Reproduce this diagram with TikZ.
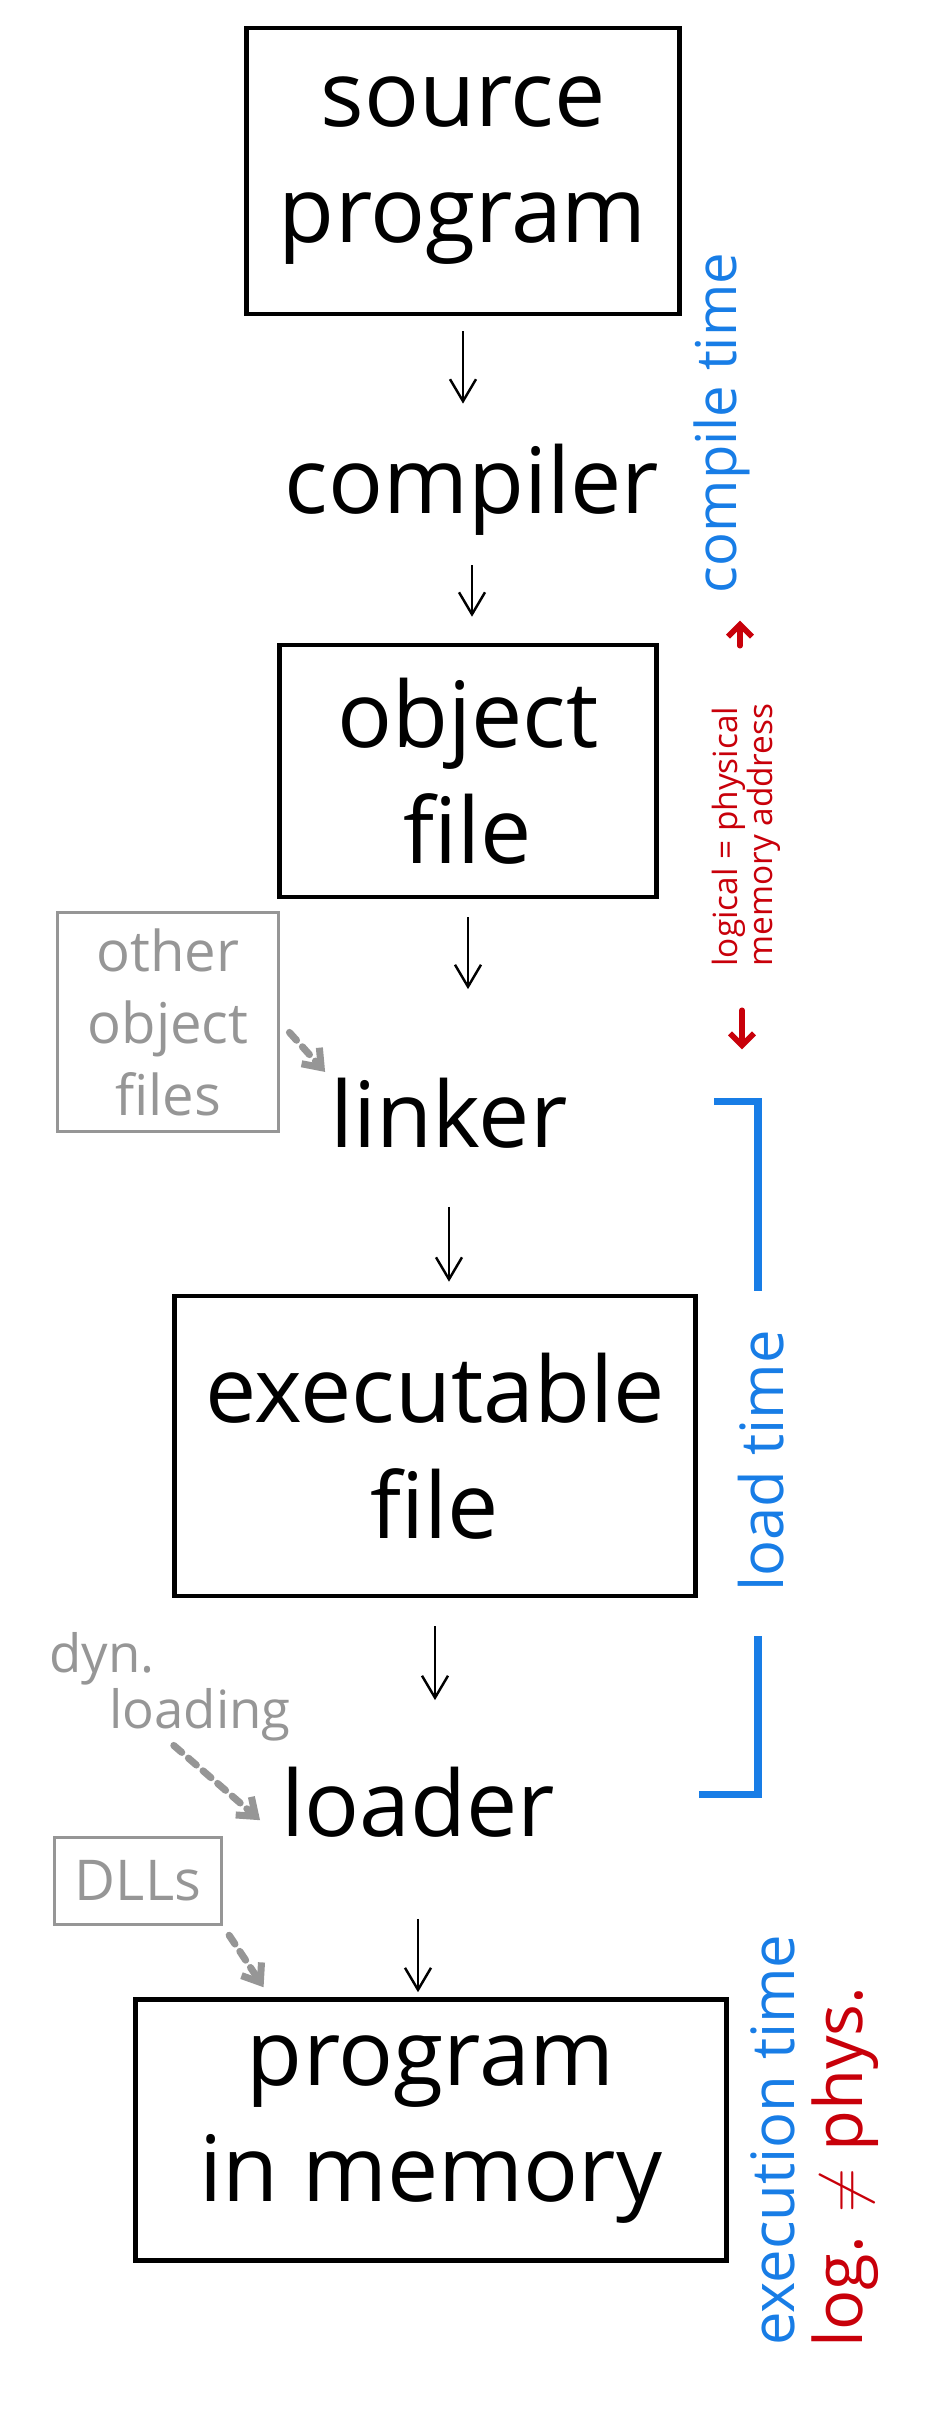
\documentclass[tikz,border=0pt]{standalone}
\usepackage{fontspec}
\setmainfont{Open Sans}
\usetikzlibrary{arrows.meta,positioning,calc}
\definecolor{notesblue}{RGB}{24,125,230}
\definecolor{notesred}{RGB}{200,0,10}
\definecolor{notesgray}{RGB}{150,150,150}
\begin{document}
\begin{tikzpicture}[x=0.1mm,y=-0.1mm,stage/.style={draw,line width=1.3pt,align=center,font=\fontsize{26}{33}\selectfont},tool/.style={inner sep=0pt,font=\fontsize{26}{33}\selectfont},extra/.style={draw=notesgray,line width=0.9pt,text=notesgray,align=center,inner sep=1pt,font=\fontsize{16}{20.5}\selectfont},arr/.style={-{Straight Barb[length=2.2mm,width=2.6mm]},line width=0.7pt},dasharr/.style={-{Straight Barb[length=1.6mm,width=2.4mm]},draw=notesgray,line width=2pt,dash pattern=on 3pt off 2.5pt,line cap=round},phase/.style={rotate=90,inner sep=0pt,text=notesblue,font=\fontsize{17}{20}\selectfont},remark/.style={rotate=90,inner sep=0pt,text=notesred,align=left},redarr/.style={-{Straight Barb[length=1.2mm,width=2.4mm]},draw=notesred,line width=1.6pt,line cap=round},brace/.style={draw=notesblue,line width=2pt}]
\useasboundingbox (0,0) rectangle (931,2425);
\node[stage,minimum width=43.3mm,minimum height=28.6mm] (src) at (463,171) {source\\program};
\node[tool] (comp) at (472,490) {compiler};
\node[stage,minimum width=37.7mm,minimum height=25.2mm] (obj) at (468,771) {object\\file};
\node[tool] (link) at (449,1113) {linker};
\node[stage,minimum width=52.1mm,minimum height=30mm] (exe) at (435,1446) {executable\\file};
\node[tool] (load) at (418,1802) {loader};
\node[stage,minimum width=59.1mm,minimum height=26.1mm] (mem) at (431,2130) {program\\in memory};
\node[extra,minimum width=22.1mm,minimum height=21.9mm] (other) at (168,1022) {other\\object\\files};
\node[text=notesgray,inner sep=0pt,align=left,font=\fontsize{15}{12}\selectfont] (dyn) at (170,1687) {dyn.\\\hspace{6mm}loading};
\node[extra,minimum width=16.7mm,minimum height=8.7mm] (dll) at (138,1881) {DLLs};
\node[phase,font=\fontsize{16}{20}\selectfont] (ctime) at (722,423) {compile time};
\node[remark,font=\fontsize{9.5}{10}\selectfont] (addr) at (746,835) {logical = physical\\memory address};
\node[phase] (ltime) at (761,1461) {load time};
\node[phase] (etime) at (773,2140) {execution time};
\node[remark,font=\fontsize{19}{23}\selectfont] (neq) at (845,2167) {log. $\neq$ phys.};
\draw[arr,shorten <=1.5mm,shorten >=4mm] (src.south) -- (src.south |- comp.north);
\draw[arr,shorten <=2.9mm,shorten >=2.6mm] (comp.south) -- (comp.south |- obj.north);
\draw[arr,shorten <=1.8mm,shorten >=8.8mm] (obj.south) -- (obj.south |- link.north);
\draw[arr,shorten <=5.8mm,shorten >=1.2mm] (link.south) -- (link.south |- exe.north);
\draw[arr,shorten <=2.8mm,shorten >=6.6mm] (exe.south) -- (exe.south |- load.north);
\draw[arr,shorten <=8.1mm,shorten >=0.5mm] (load.south) -- (load.south |- mem.north);
\draw[dasharr,shorten <=1.4mm,shorten >=0.7mm] (other.east) -- (link.north west);
\draw[dasharr,shorten <=0.5mm,shorten >=2.7mm] (dyn.south) -- (load.south west);
\draw[dasharr,shorten <=1.1mm,shorten >=1.2mm] (dll.south east) -- ($(mem.north west)!0.23!(mem.north east)$);
\draw[redarr] ([xshift=-0.6mm,yshift=5.7mm]addr.east) -- ++(0,-25);
\draw[redarr] ([xshift=-0.4mm,yshift=-4.3mm]addr.west) -- ++(0,39);
% load time bracket
\draw[brace] (714,1101) -- (758,1101) -- (758,1291);
\draw[brace] (758,1636) -- (758,1794) -- (699,1794);
\end{tikzpicture}
\end{document}
